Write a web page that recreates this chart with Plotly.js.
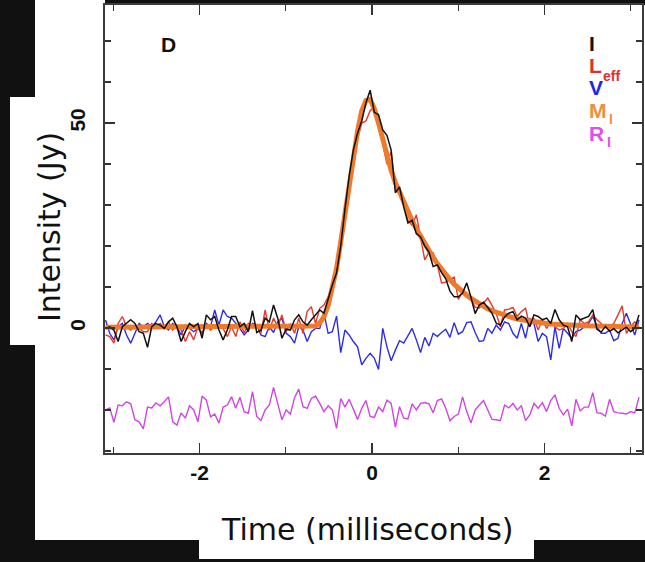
<!DOCTYPE html>
<html>
<head>
<meta charset="utf-8">
<script src="https://cdn.plot.ly/plotly-3.0.1.min.js"></script>
<style>
html,body{margin:0;padding:0;background:#111111;}
#chart{width:645px;height:562px;}
</style>
</head>
<body>
<div id="chart"></div>
<script>
// Time grid: first sample time and bin width (milliseconds)
const timeStart = -3.09;
const timeStep = 0.0487;

// Total intensity I (black)
const seriesI = [-0.1,0.3,-0.5,-3.3,0.3,1.1,2,1.1,-0.9,-1.3,-4.7,0.3,1.1,0.7,-0.1,1.5,2.4,0.3,-3.3,-0.9,1.1,0.3,1.1,-2.5,3.2,2,2.8,-0.5,-2.9,-0.5,2.8,
  2.8,0.3,1.1,-0.9,4.2,-1.1,-0.5,2.4,1.5,5.6,2.4,-2.5,-0.3,-0.5,2,3.2,1.5,0.7,2,3.2,4.4,3.6,
  7.3,10.5,13.4,20,29,37,43.4,47.5,50.5,54.9,58,52.6,52,48.3,47,43.4,33,34.4,29.5,25.6,26.3,23,22.2,20,18.5,15,15.4,13.5,12,9,7.6,7.6,8.5,11,7.5,3.5,5.6,6.3,5,3.6,1.2,0.7,2.7,3.6,
  4,2,2.9,2.4,0.3,3.2,2.8,2,2.4,1.1,4.5,2,0.7,0.3,-3.3,3.2,2,2.4,2.8,4.5,-0.3,-1.0,0.4,-0.8,-0.2,-1.2,-0.6,0.2,-0.9,-0.1,3.2];

// Effective linear polarisation L_eff (red)
const seriesL = [-1.7,-2.1,-3.7,1.1,2.8,0.3,-0.5,0.3,-0.1,-0.9,-0.9,1.1,0.3,1.1,0.3,1.5,-0.5,0.7,-0.5,-3.3,-0.9,-2.9,0.3,-1.3,0.7,-0.5,0.3,0.7,-0.1,-2.1,0.3,
  -2.1,1.5,-1.3,1.1,0.3,0.7,-1.3,4.4,-0.5,2.4,0.3,3.2,-0.9,1.1,-1.3,2.4,-1.3,4,5.2,1.1,4.8,5.6,
  7.6,11,15,21,27.5,34,40,46,50,50.5,53,54,50,45,40,43,34,33,30,26.3,25,27.6,22.2,16.6,18.5,18.3,15.4,11,11.2,11.7,12.4,7,8.8,8,7,5.1,4.9,6.1,7.3,5.5,3.6,0.3,4.4,4.6,
  5,2.8,4,4.8,0.3,2.4,-0.5,2,-0.1,1.5,0.3,-0.5,-0.1,1.1,-0.9,-2.1,2,1.1,1.5,3.2,2,1.1,0.3,0.3,1.1,3.2,5.4,-1.3,0.3,1.5,0.3];

// Circular polarisation V (blue)
const seriesV = [1.95,-1.3,-2.9,0.3,1.1,-1.7,-3.7,-1.3,1.1,0.3,1.1,0.3,1.5,3.2,0.3,-0.5,1.1,0.3,-1.7,0.7,-0.1,-0.9,-0.1,-1.3,1.1,0.3,4.4,0.7,4.4,2.8,2.4,
  1.1,-0.1,-1.7,-0.5,1.1,0.7,-1.7,-2.1,0.3,-1.1,1.5,2.4,-1.3,-2.1,-3.7,0.3,-0.5,-3.3,-0.9,-0.1,-0.1,3.6,-1.3,-0.9,2.9,-6,-0.5,-1.7,-3.3,-4.6,-9,-7.4,-6.2,
  -7.4,-10.1,-0.1,-4.6,-8,-5.4,-3.1,-3.7,-2,-0.1,-2.9,-6,-2.3,-4.4,-1.3,-2.1,-1.1,-0.3,-2.3,1.3,-1.5,-0.9,1.3,1.5,-1.1,-3.3,-3.1,-0.1,-1.3,0.7,
  -0.5,1.5,1.1,-1.3,-2.5,1.1,-2.5,2.4,1.1,-3.3,-1.3,-2.1,-7.8,0.3,-5,-0.1,-1.3,-2.5,-0.9,-0.5,0.3,1.1,2.8,0.3,-1.3,-1.3,-0.5,-3.1,-2.5,1.1,3.6,1.1,-1.7,2];

// Model of I, M_I (orange)
const seriesM = [0.2,0.2,0.2,0.2,0.2,0.2,0.2,0.2,0.2,0.2,0.2,0.2,0.2,0.2,0.2,0.2,0.2,0.2,0.2,0.2,0.2,0.2,0.2,0.2,0.2,
  0.2,0.2,0.2,0.2,0.2,0.2,0.2,0.2,0.2,0.2,0.2,0.2,0.2,0.2,0.2,0.2,0.2,0.2,0.2,0.2,0.2,0.2,0.2,0.2,0.2,
  0.5,1.2,2.8,5.5,9.5,14.5,21,28,35,42,48,53,55.5,55.8,53.5,50,46,42,38.5,35.5,33,30.5,28.3,26.2,24.2,22.3,20.5,18.8,17.2,15.7,
  14.3,13,11.8,10.7,9.7,8.8,8,7.2,6.5,5.8,5.2,4.7,4.2,3.8,3.4,3.1,2.8,2.5,2.2,2,1.8,1.6,1.45,1.3,1.2,1.1,1,0.9,0.85,0.8,
  0.75,0.7,0.65,0.6,0.55,0.5,0.5,0.45,0.45,0.4,0.4,0.35,0.35,0.3,0.3,0.3,0.25,0.25];

// Residuals R_I (magenta), offset below zero
const seriesR = [-20,-19.5,-23,-18.8,-19,-18,-18.5,-22.4,-22.9,-24.6,-19.3,-19.5,-18.3,-19,-18,-16.8,-22.9,-23.7,-20.7,-22,-19,-20,-22.9,-16.6,-17.6,-21.7,-21,-23.2,-19.3,-18.8,-16.8,
  -19.6,-16.9,-20.4,-20.8,-15.5,-21.6,-22.6,-20,-18.8,-14.5,-18.4,-22.4,-20,-21,-17,-14.9,-19.2,-19.6,-17.2,-16.6,-18.4,-20.4,-19,-20,-24.5,-17.2,-19.3,-17.4,-19.8,-22.3,-19.6,-17.7,-21.6,
  -21.8,-19.3,-20.4,-17.6,-18.4,-24.2,-19.2,-22,-22.2,-18.5,-20,-18.4,-18.2,-18.5,-20.7,-17.7,-17.3,-19.6,-22.6,-21.6,-21,-16.8,-20.4,-23.2,-20,-18.8,-17.7,-20,-22.3,-22.4,-22.6,-18.8,-19.5,
  -18.4,-20,-19,-22.6,-21.2,-18.4,-19.6,-18.2,-20.4,-17.7,-16.3,-19.6,-21.2,-19.8,-23.9,-17.4,-20.2,-19.3,-19.3,-15.8,-20.7,-20.8,-21.5,-17.4,-20.4,-20.7,-20.8,-21,-20.4,-20.7,-16.9];

// Axis ticks
const xTickVals = [-2, 0, 2];
const xTickText = ['-2', '0', '2'];
const xMinorVals = [-3, -1, 1, 3];
const yTickVals = [0, 50];
const yTickText = ['0', '50'];
const yMinorVals = [-30, -20, -10, 10, 20, 30, 40, 60, 70];

// Legend labels
const legendMain = ['I', 'L', 'V', 'M', 'R'];
const legendSub = ['', 'eff', '', 'I', 'I'];
const legendColors = ['#111111', '#e2302a', '#2424e6', '#f0903a', '#e24cf0'];

// layout helpers (pixel -> paper)
const ML = 105, MR = 3, MT = 5, MB = 109, W = 645, H = 562;
const PW = W - ML - MR, PH = H - MT - MB;
const PX = x => (x - ML) / PW;
const PY = y => (H - MB - y) / PH;

function tr(y, color, width) {
  return {type: 'scatter', mode: 'lines', x0: timeStart, dx: timeStep, y: y,
    line: {color: color, width: width}, hoverinfo: 'skip', showlegend: false};
}
const traces = [
  tr(seriesR, '#d046e2', 1.4),
  tr(seriesV, '#2c2ce8', 1.4),
  tr(seriesL, '#e6382e', 1.4),
  tr(seriesM, '#f07a2c', 5),
  tr(seriesI, '#111111', 1.5)
];

const tickFont = {family: 'Liberation Sans, Arial, sans-serif', size: 21, color: '#111111', weight: 'bold'};
const axisCommon = {
  showline: true, linecolor: '#3c3c3c', linewidth: 1.6, mirror: 'allticks',
  ticks: 'inside', ticklen: 10, tickwidth: 1.4, tickcolor: '#333333',
  showgrid: false, zeroline: false, tickfont: tickFont, fixedrange: true
};

const shapes = [
  {type: 'rect', xref: 'paper', yref: 'paper', layer: 'below', x0: PX(35), x1: PX(645), y0: PY(540), y1: PY(5), fillcolor: '#ffffff', line: {width: 0}},
  {type: 'rect', xref: 'paper', yref: 'paper', layer: 'below', x0: PX(35), x1: PX(105), y0: PY(6), y1: PY(0), fillcolor: '#ffffff', line: {width: 0}},
  {type: 'rect', xref: 'paper', yref: 'paper', layer: 'below', x0: PX(10), x1: PX(106), y0: PY(345), y1: PY(97), fillcolor: '#ffffff', line: {width: 0}},
  {type: 'rect', xref: 'paper', yref: 'paper', layer: 'below', x0: PX(199), x1: PX(534), y0: PY(559), y1: PY(539), fillcolor: '#ffffff', line: {width: 0}}
];

const annotations = [
  {xref: 'paper', yref: 'paper', x: PX(367), y: PY(529), xanchor: 'center', yanchor: 'middle', showarrow: false,
   text: 'Time (milliseconds)', font: {family: 'DejaVu Sans, sans-serif', size: 30, color: '#111111'}},
  {xref: 'paper', yref: 'paper', x: PX(49), y: PY(227), xanchor: 'center', yanchor: 'middle', showarrow: false, textangle: -90,
   text: 'Intensity (Jy)', font: {family: 'DejaVu Sans, sans-serif', size: 30, color: '#111111'}},
  {xref: 'paper', yref: 'paper', x: PX(159), y: PY(44.5), xanchor: 'left', yanchor: 'middle', showarrow: false,
   text: 'D', font: {family: 'Liberation Sans, Arial, sans-serif', size: 21, color: '#111111', weight: 'bold'}}
];
const legY = [43, 65.5, 88, 110.5, 133];
const subX = [0, 601, 0, 607, 605];
const subY = [0, 76, 0, 119, 142];
legendMain.forEach((t, k) => {
  annotations.push({xref: 'paper', yref: 'paper', x: PX(587), y: PY(legY[k]), xanchor: 'left', yanchor: 'middle', showarrow: false,
    text: t, font: {family: 'Liberation Sans, Arial, sans-serif', size: 21, color: legendColors[k], weight: 'bold'}});
  if (legendSub[k]) {
    annotations.push({xref: 'paper', yref: 'paper', x: PX(subX[k]), y: PY(subY[k]), xanchor: 'left', yanchor: 'middle', showarrow: false,
      text: legendSub[k], font: {family: 'Liberation Sans, Arial, sans-serif', size: 14, color: legendColors[k], weight: 'bold'}});
  }
});

const layout = {
  width: W, height: H,
  margin: {l: ML, r: MR, t: MT, b: MB, pad: 0},
  paper_bgcolor: '#111111',
  plot_bgcolor: 'rgba(0,0,0,0)',
  showlegend: false,
  xaxis: Object.assign({}, axisCommon, {
    range: [-3.096, 3.130], tickmode: 'array', tickvals: xTickVals, ticktext: xTickText,
    ticklabelstandoff: 0,
    minor: {tickmode: 'array', tickvals: xMinorVals, ticks: 'inside', ticklen: 6, tickwidth: 1.4, tickcolor: '#333333', showgrid: false}
  }),
  yaxis: Object.assign({}, axisCommon, {
    range: [-30.5, 78.8], tickmode: 'array', tickvals: yTickVals, ticktext: yTickText, tickangle: -90,
    ticklabelstandoff: 10,
    minor: {tickmode: 'array', tickvals: yMinorVals, ticks: 'inside', ticklen: 6, tickwidth: 1.4, tickcolor: '#333333', showgrid: false}
  }),
  shapes: shapes,
  annotations: annotations
};

Plotly.newPlot('chart', traces, layout, {displayModeBar: false, staticPlot: true});
</script>
</body>
</html>
